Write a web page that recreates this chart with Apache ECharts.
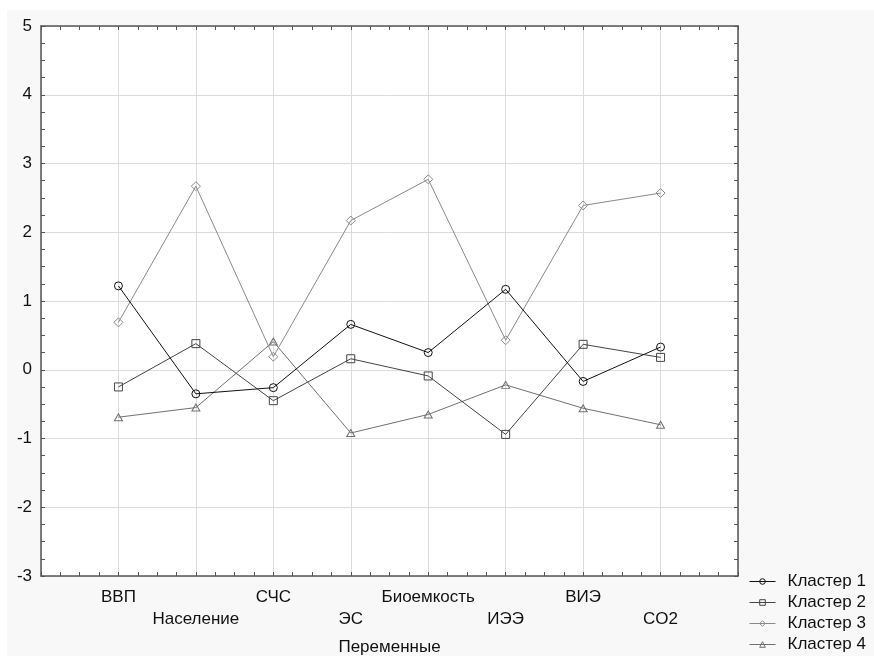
<!DOCTYPE html>
<html>
<head>
<meta charset="utf-8">
<script src="https://cdn.jsdelivr.net/npm/echarts@6/dist/echarts.min.js"></script>
<style>html,body{margin:0;padding:0;background:#fff;overflow:hidden;}#c{width:874px;height:656px;}</style>
</head>
<body>
<div id="c"></div>
<script>
const categories = ['ВВП', 'Население', 'СЧС', 'ЭС', 'Биоемкость', 'ИЭЭ', 'ВИЭ', 'CO2'];
const seriesNames = ['Кластер 1', 'Кластер 2', 'Кластер 3', 'Кластер 4'];
const cluster1 = [1.22, -0.35, -0.26, 0.66, 0.25, 1.17, -0.17, 0.33];
const cluster2 = [-0.25, 0.38, -0.45, 0.16, -0.09, -0.94, 0.37, 0.18];
const cluster3 = [0.69, 2.67, 0.19, 2.17, 2.77, 0.43, 2.39, 2.57];
const cluster4 = [-0.69, -0.55, 0.41, -0.92, -0.65, -0.22, -0.56, -0.80];
const yTicks = [-3, -2, -1, 0, 1, 2, 3, 4, 5];
const xAxisTitle = 'Переменные';

const font = '"Liberation Sans", Arial, sans-serif';
const values = [cluster1, cluster2, cluster3, cluster4];
const symbols = ['circle', 'rect', 'diamond', 'triangle'];
const sizes = [8, 8, 9, [8, 7]];
const colors = ['#111111', '#444444', '#8a8a8a', '#707070'];

const chart = echarts.init(document.getElementById('c'), null, {renderer: 'canvas', width: 874, height: 656});

const series = values.map((vals, s) => ({
  name: seriesNames[s],
  type: 'line',
  xAxisIndex: 0,
  yAxisIndex: 0,
  data: vals.map((v, i) => [i + 1, v]),
  symbol: symbols[s],
  symbolSize: sizes[s],
  showAllSymbol: true,
  lineStyle: {color: colors[s], width: 1},
  itemStyle: {color: 'rgba(0,0,0,0)', borderColor: colors[s], borderWidth: 1},
  emphasis: {disabled: true},
  animation: false,
  z: 5 - s
}));

const legendData = seriesNames.map((n, s) => ({
  name: n,
  itemStyle: {color: 'rgba(0,0,0,0)', borderColor: colors[s], borderWidth: 1},
  lineStyle: {color: colors[s], width: 1}
}));

const gridAxisLine = {show: true, onZero: false, lineStyle: {color: '#555', width: 1.5}};
const tickStyle = {show: true, inside: true, length: 4, lineStyle: {color: '#555'}};
const minorStyle = {show: true, splitNumber: 4, length: 4, lineStyle: {color: '#555'}};

chart.setOption({
  backgroundColor: '#ffffff',
  animation: false,
  graphic: [{
    type: 'rect', left: 7, top: 10, shape: {width: 867, height: 646},
    style: {fill: '#f8f8f8'}, z: -10, silent: true
  }],
  grid: {left: 41, top: 26, width: 697, height: 550, show: true, backgroundColor: '#ffffff', borderWidth: 0,
         containLabel: false, outerBoundsMode: 'none'},
  legend: {
    orient: 'vertical', left: 749, top: 573, padding: 0,
    itemWidth: 26, itemHeight: 7, itemGap: 4,
    textStyle: {fontFamily: font, fontSize: 17, color: '#111', lineHeight: 17, padding: [0, 0, 0, 7]},
    data: legendData,
    selectedMode: false
  },
  xAxis: [{
    type: 'value', min: 0, max: 9, interval: 1, position: 'bottom',
    name: xAxisTitle, nameLocation: 'middle', nameGap: 63,
    nameTextStyle: {fontFamily: font, fontSize: 17, color: '#111'},
    axisLine: gridAxisLine, axisTick: tickStyle, minorTick: minorStyle,
    splitLine: {show: true, lineStyle: {color: '#dcdcdc', width: 1}},
    axisLabel: {
      margin: 10, fontFamily: font, fontSize: 17, color: '#111', lineHeight: 22,
      formatter: function (v) {
        const i = Math.round(v) - 1;
        if (i < 0 || i >= categories.length) return '';
        return (i % 2 === 1 ? '\n' : '') + categories[i];
      }
    }
  }, {
    type: 'value', min: 0, max: 9, interval: 1, position: 'top',
    axisLine: gridAxisLine, axisTick: tickStyle, minorTick: minorStyle,
    splitLine: {show: false}, axisLabel: {show: false}
  }],
  yAxis: [{
    type: 'value', min: yTicks[0], max: yTicks[yTicks.length - 1], interval: 1, position: 'left',
    axisLine: gridAxisLine, axisTick: tickStyle, minorTick: minorStyle,
    splitLine: {show: true, lineStyle: {color: '#dcdcdc', width: 1}},
    axisLabel: {margin: 9, fontFamily: font, fontSize: 17, color: '#111'}
  }, {
    type: 'value', min: yTicks[0], max: yTicks[yTicks.length - 1], interval: 1, position: 'right',
    axisLine: gridAxisLine, axisTick: tickStyle, minorTick: minorStyle,
    splitLine: {show: false}, axisLabel: {show: false}
  }],
  series: series
});
</script>
</body>
</html>
